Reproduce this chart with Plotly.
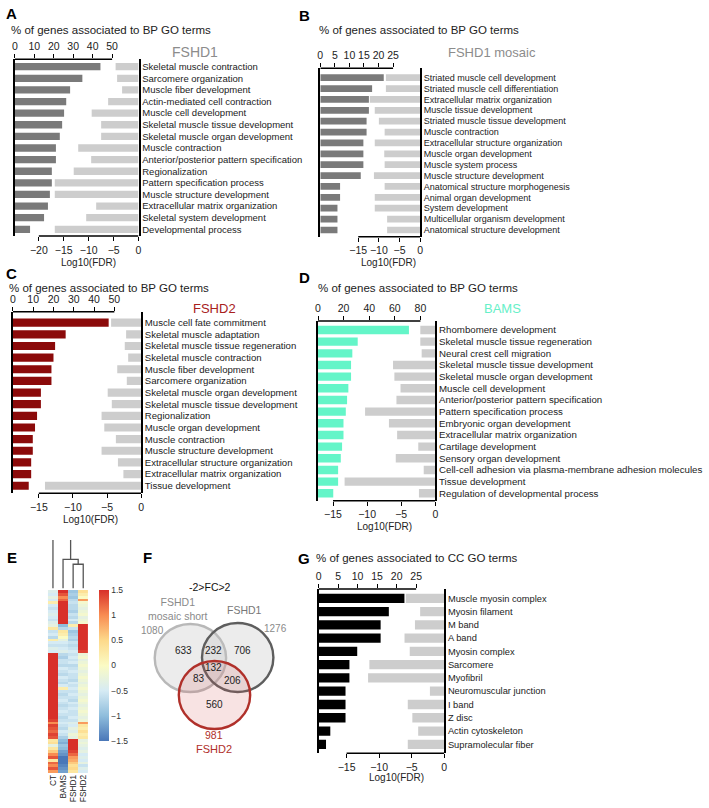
import plotly.graph_objects as go

W, H = 709, 808
FONT = "Liberation Sans, Arial, sans-serif"

# ======================= DATA =======================
a_terms = ["Skeletal muscle contraction", "Sarcomere organization", "Muscle fiber development",
           "Actin-mediated cell contraction", "Muscle cell development", "Skeletal muscle tissue development",
           "Skeletal muscle organ development", "Muscle contraction", "Anterior/posterior pattern specification",
           "Regionalization", "Pattern specification process", "Muscle structure development",
           "Extracellular matrix organization", "Skeletal system development", "Developmental process"]
a_pct = [44, 34.7, 28.4, 26.4, 25.3, 24.3, 23.1, 21.1, 21.1, 19, 19, 18, 17, 15, 7.8]
a_fdr = [-4.6, -4.3, -3.3, -6.1, -9.4, -7.5, -7.5, -12.1, -9.5, -13.0, -16.8, -16.8, -8.5, -10.5, -16.8]

b_terms = ["Striated muscle cell development", "Striated muscle cell differentiation",
           "Extracellular matrix organization", "Muscle tissue development",
           "Striated muscle tissue development", "Muscle contraction", "Extracellular structure organization",
           "Muscle organ development", "Muscle system process", "Muscle structure development",
           "Anatomical structure morphogenesis", "Animal organ development", "System development",
           "Multicellular organism development", "Anatomical structure development"]
b_pct = [21.8, 17.8, 16.7, 16.7, 15.9, 15.9, 14.8, 14.8, 14.8, 13.9, 6.8, 6.8, 5.9, 5.9, 5.9]
b_fdr = [-8.3, -8.3, -12.2, -11.0, -10.0, -8.6, -11.0, -8.7, -8.6, -11.2, -8.6, -11.0, -11.0, -8.0, -8.0]

c_terms = ["Muscle cell fate commitment", "Skeletal muscle adaptation", "Skeletal muscle tissue regeneration",
           "Skeletal muscle contraction", "Muscle fiber development", "Sarcomere organization",
           "Skeletal muscle organ development", "Skeletal muscle tissue development", "Regionalization",
           "Muscle organ development", "Muscle contraction", "Muscle structure development",
           "Extracellular structure organization", "Extracellular matrix organization", "Tissue development"]
c_pct = [47.2, 26, 20.8, 20, 19, 19, 13.8, 13.8, 11.9, 10.9, 9.8, 9.8, 9, 9, 7.8]
c_fdr = [-4.4, -2.2, -2.4, -1.9, -3.5, -2.1, -4.9, -4.3, -5.8, -5.4, -3.7, -5.8, -3.4, -2.6, -14.1]

d_terms = ["Rhombomere development", "Skeletal muscle tissue regeneration", "Neural crest cell migration",
           "Skeletal muscle tissue development", "Skeletal muscle organ development", "Muscle cell development",
           "Anterior/posterior pattern specification", "Pattern specification process",
           "Embryonic organ development", "Extracellular matrix organization", "Cartilage development",
           "Sensory organ development", "Cell-cell adhesion via plasma-membrane adhesion molecules",
           "Tissue development", "Regulation of developmental process"]
d_pct = [71, 31, 26.8, 25.8, 25.8, 23.7, 22.7, 21.7, 19.9, 19.9, 18.8, 17.8, 15.7, 15.7, 11.9]
d_fdr = [-2.2, -2.2, -2.0, -6.2, -6.0, -5.1, -5.7, -10.3, -6.8, -5.6, -2.5, -5.8, -1.7, -13.3, -2.4]

g_terms = ["Muscle myosin complex", "Myosin filament", "M band", "A band", "Myosin complex", "Sarcomere",
           "Myofibril", "Neuromuscular junction", "I band", "Z disc", "Actin cytoskeleton", "Supramolecular fiber"]
g_pct = [22, 18, 15.9, 15.9, 9.9, 7.9, 7.9, 6.9, 6.9, 6.9, 3, 1.9]
g_fdr = [-5.9, -3.7, -4.5, -6.1, -5.3, -11.5, -11.7, -2.2, -5.6, -4.9, -4.0, -5.6]

pct_ticks_50 = [0, 10, 20, 30, 40, 50]
pct_ticks_25 = [0, 5, 10, 15, 20, 25]
pct_ticks_80 = [0, 20, 40, 60, 80]
fdr_ticks_20 = [-20, -15, -10, -5, 0]
fdr_ticks_15 = [-15, -10, -5, 0]

# heatmap (rows x [CT, BAMS, FSHD1, FSHD2])
heat_cols = ["CT", "BAMS", "FSHD1", "FSHD2"]
heat_rows = [
    [-0.4, 1.5, -0.9, 0.4], [-0.5, 1.3, -0.8, 0.2], [-0.3, 1.0, -0.9, 0.0], [-0.5, 1.2, -0.7, 0.9],
    [0.2, 1.5, -0.6, -0.1], [-0.5, 1.5, -0.7, -0.2], [-0.6, 1.5, -0.7, -0.3], [-0.5, 1.5, -0.8, -0.2],
    [-0.4, 1.5, -0.6, -0.1], [-0.5, 1.5, -0.7, -0.3], [-0.6, 1.5, -0.5, -0.2], [-0.4, 1.5, -0.7, -0.1],
    [-0.3, -1.0, 0.2, 1.5], [0.3, -0.7, -0.6, 1.5], [-0.6, 0.3, -0.9, 1.5], [-0.5, 0.2, -0.8, 1.5],
    [-0.7, 0.0, -0.7, 1.5], [0.2, -0.3, -0.8, 1.5], [-0.5, -0.5, -0.6, 1.5], [-0.6, -0.6, -0.7, 1.5],
    [-0.4, -0.5, -0.6, 1.5], [-0.5, -0.4, -0.5, 1.4],
    [1.5, -0.7, -0.6, -0.2], [1.5, -0.8, -0.5, -0.1], [1.5, -0.6, -0.6, -0.3], [1.5, -0.6, -0.5, -0.2],
    [1.5, -0.7, -0.7, -0.1], [1.5, -0.5, -0.6, -0.2], [1.5, -0.6, -0.5, -0.3], [1.5, -0.7, -0.6, -0.2],
    [1.5, -0.5, -0.6, -0.1], [1.5, -0.6, -0.7, -0.2], [1.5, -0.7, -0.5, -0.3], [1.5, -0.5, -0.6, -0.2],
    [1.5, 0.2, -0.5, -0.1], [1.5, -0.6, -0.6, -0.2], [1.5, -0.7, -0.5, -0.3], [1.5, -0.6, -0.6, -0.2],
    [1.5, -0.5, -0.7, -0.1], [1.5, -0.6, -0.5, -0.2], [1.5, -0.7, -0.6, -0.3], [1.5, -0.6, -0.5, -0.2],
    [1.5, -0.5, -0.6, -0.1], [1.5, -0.6, -0.6, -0.2], [1.5, -0.7, -0.5, -0.3], [1.4, -0.6, -0.6, -0.2],
    [1.0, -0.5, -0.4, 0.9], [1.4, -0.6, -0.5, 0.3], [1.3, -0.7, -0.3, 0.2], [1.2, -0.5, -0.4, 0.4],
    [1.4, -0.6, -0.2, 0.2], [1.3, -0.8, -0.3, 0.3],
    [0.3, -1.0, 1.5, -0.3], [0.4, -1.1, 1.5, -0.2], [-0.3, -0.9, 1.5, -0.3], [0.3, -1.0, 1.5, -0.4],
    [0.6, -1.2, 1.4, -0.3], [1.0, -1.3, 1.2, -0.5], [1.3, -1.5, 0.9, -0.4], [0.3, -1.5, 0.8, -0.5],
    [1.2, -1.5, 0.6, -0.3], [1.0, -1.4, 0.4, -0.6], [1.3, -1.3, 0.5, -0.4], [0.9, -1.2, 0.3, -0.5],
]
heat_ticks = [-1.5, -1, -0.5, 0, 0.5, 1, 1.5]
heat_ticktext = ["\u22121.5", "\u22121", "\u22120.5", "0", "0.5", "1", "1.5"]
# dendrogram merges (child A, child B, height)
dendro_merges = [("FSHD1", "FSHD2", 0.5), ("BAMS", "FSHD1+FSHD2", 0.6), ("CT", "BAMS+FSHD1+FSHD2", 1.3)]

# Venn
venn_title = "-2>FC>2"
venn_sets = ["FSHD1<br>mosaic short", "FSHD1", "FSHD2"]
venn_totals = [1080, 1276, 981]
venn_regions = ["mosaic only", "mosaic&FSHD1", "FSHD1 only", "all", "mosaic&FSHD2", "FSHD1&FSHD2", "FSHD2 only"]
venn_counts = [633, 232, 706, 132, 83, 206, 560]

# ======================= LAYOUT =======================
def fx(px):
    return px / W

def fy(py):
    return 1 - py / H

DARK_GREY = "#7a7a7a"
LIGHT = "#cdcdcd"
RED = "#8b0a0a"
AQUA = "#64f5c8"

panels = [
    dict(letter="A", lpos=(9, 13), title="% of genes associated to BP GO terms", tpos=(6, 30),
         name="FSHD1", npos=(194, 52), nsize=14, ncolor="#8c8c8c",
         terms=a_terms, pct=a_pct, fdr=a_fdr, color=DARK_GREY,
         x0=12, x1=136.7, ytop=59.3, ybot=236, row0=66.7, rowN=229.3, pct_max=63.6, fdr_min=-24.8,
         pticks=pct_ticks_50, fticks=fdr_ticks_20, bw=0.63, lsize=9.5, logpos=(86, 263)),
    dict(letter="B", lpos=(304, 15), title="% of genes associated to BP GO terms", tpos=(317, 30),
         name="FSHD1 mosaic", npos=(493, 52), nsize=13, ncolor="#8c8c8c",
         terms=b_terms, pct=b_pct, fdr=b_fdr, color=DARK_GREY,
         x0=320, x1=420.7, ytop=68.3, ybot=236.7, row0=77.7, rowN=230, pct_max=34.3, fdr_min=-24.2,
         pticks=pct_ticks_25, fticks=fdr_ticks_15, bw=0.62, lsize=9, logpos=(389, 262)),
    dict(letter="C", lpos=(9, 273), title="% of genes associated to BP GO terms", tpos=(4, 288),
         name="FSHD2", npos=(213, 308), nsize=13, ncolor="#a8201c",
         terms=c_terms, pct=c_pct, fdr=c_fdr, color=RED,
         x0=10, x1=139.3, ytop=311.7, ybot=493.3, row0=322.7, rowN=485.7, pct_max=63.2, fdr_min=-18.8,
         pticks=pct_ticks_50, fticks=fdr_ticks_15, bw=0.7, lsize=9.6, logpos=(88, 519)),
    dict(letter="D", lpos=(304, 277), title="% of genes associated to BP GO terms", tpos=(316, 288),
         name="BAMS", npos=(504, 308), nsize=13, ncolor="#66f0c8",
         terms=d_terms, pct=d_pct, fdr=d_fdr, color=AQUA,
         x0=317.7, x1=436, ytop=321, ybot=500.7, row0=330, rowN=493.3, pct_max=91.6, fdr_min=-17.2,
         pticks=pct_ticks_80, fticks=fdr_ticks_15, bw=0.72, lsize=9.7, logpos=(385, 526)),
    dict(letter="G", lpos=(304, 558), title="% of genes associated to CC GO terms", tpos=(314, 558),
         name=None, terms=g_terms, pct=g_pct, fdr=g_fdr, color="#000000",
         x0=318.3, x1=445, ytop=589, ybot=753.3, row0=598.3, rowN=744.3, pct_max=32.2, fdr_min=-19.3,
         pticks=pct_ticks_25, fticks=fdr_ticks_15, bw=0.7, lsize=9.3, logpos=(397, 777)),
]

fig = go.Figure()
lay = {}
shapes = []
annotations = []


def xid(k):
    return "x" if k == 1 else f"x{k}"


def yid(k):
    return "y" if k == 1 else f"y{k}"


def xkey(k):
    return "xaxis" if k == 1 else f"xaxis{k}"


def ykey(k):
    return "yaxis" if k == 1 else f"yaxis{k}"


def ann(text, x, y, size=10, color="#222222", xanchor="left", bold=False, yanchor="middle"):
    annotations.append(dict(text=f"<b>{text}</b>" if bold else text, x=fx(x), y=fy(y),
                            xref="paper", yref="paper", xanchor=xanchor, yanchor=yanchor,
                            showarrow=False, font=dict(size=size, color=color, family=FONT)))


LW = 1.6
for i, p in enumerate(panels):
    xa, xb, ya = 2 * i + 1, 2 * i + 2, i + 1
    n = len(p["terms"])
    s = (p["rowN"] - p["row0"]) / (n - 1)
    tpad = (p["row0"] - p["ytop"]) / s
    bpad = (p["ybot"] - p["rowN"]) / s
    fig.add_trace(go.Bar(y=p["terms"], x=p["pct"], orientation="h", width=p["bw"],
                         marker=dict(color=p["color"], line=dict(width=0)),
                         xaxis=xid(xa), yaxis=yid(ya), hoverinfo="skip"))
    fig.add_trace(go.Bar(y=p["terms"], x=p["fdr"], orientation="h", width=p["bw"],
                         marker=dict(color=LIGHT, line=dict(width=0)),
                         xaxis=xid(xb), yaxis=yid(ya), hoverinfo="skip"))
    common_x = dict(showgrid=False, zeroline=False, showline=False, ticks="outside", ticklen=4,
                    tickwidth=1.3, tickcolor="black", tickfont=dict(size=10.5, color="#222", family=FONT))
    lay[xkey(xa)] = dict(domain=[fx(p["x0"]), fx(p["x1"])], range=[0, p["pct_max"]], side="top",
                         anchor=yid(ya), tickvals=p["pticks"], **common_x)
    lay[xkey(xb)] = dict(range=[p["fdr_min"], 0], side="bottom", overlaying=xid(xa), anchor=yid(ya),
                         tickvals=p["fticks"], **common_x)
    lay[ykey(ya)] = dict(domain=[fy(p["ybot"]), fy(p["ytop"])], type="category",
                         categoryorder="array", categoryarray=p["terms"],
                         tickmode="array", tickvals=p["terms"], ticktext=p["terms"],
                         range=[n - 1 + bpad, -tpad], anchor=xid(xa), side="right",
                         showline=True, mirror=True, linecolor="black", linewidth=LW,
                         ticks="", showgrid=False, zeroline=False,
                         tickfont=dict(size=p["lsize"], color="#222", family=FONT))
    shapes.append(dict(type="line", xref=xid(xa), yref=f"{yid(ya)} domain", x0=p["pticks"][0],
                       x1=p["pticks"][-1], y0=1, y1=1, line=dict(color="black", width=LW)))
    shapes.append(dict(type="line", xref=xid(xb), yref=f"{yid(ya)} domain", x0=p["fticks"][0],
                       x1=0, y0=0, y1=0, line=dict(color="black", width=LW)))
    ann(p["letter"], p["lpos"][0], p["lpos"][1], size=15, bold=True, color="black", xanchor="center")
    ann(p["title"], p["tpos"][0], p["tpos"][1], size=11.5, color="#222")
    if p["name"]:
        ann(p["name"], p["npos"][0], p["npos"][1], size=p["nsize"], color=p["ncolor"], xanchor="center")
    ann("Log10(FDR)", p["logpos"][0], p["logpos"][1], size=10, xanchor="center")

# ---------------- Heatmap (E) ----------------
HX, HY = 11, 6
hx0, hx1, hy0, hy1 = 45.3, 86, 590, 773.3
nrows = len(heat_rows)
heat_scale = [[0.0, "#4a77b8"], [1 / 6, "#8fbddc"], [2 / 6, "#d6ebf4"], [3 / 6, "#fbfbc4"],
              [4 / 6, "#fdd98a"], [5 / 6, "#f88c52"], [1.0, "#d8302a"]]
fig.add_trace(go.Heatmap(z=heat_rows, x=list(range(len(heat_cols))), y=list(range(nrows)),
                         zmin=-1.5, zmax=1.5, colorscale=heat_scale, xaxis=xid(HX), yaxis=yid(HY),
                         hoverinfo="skip", xgap=0, ygap=0,
                         colorbar=dict(x=fx(97), xanchor="left", y=fy(665.5), yanchor="middle",
                                       len=151 / H, lenmode="fraction", thickness=9.5, thicknessmode="pixels",
                                       outlinewidth=0, xpad=0, ypad=0, tickvals=heat_ticks,
                                       ticktext=heat_ticktext, ticks="",
                                       tickfont=dict(size=8.5, color="#333", family=FONT))))
lay[xkey(HX)] = dict(domain=[fx(hx0), fx(hx1)], range=[-0.5, len(heat_cols) - 0.5], anchor=yid(HY),
                     tickvals=list(range(len(heat_cols))), ticktext=heat_cols, tickangle=-90,
                     ticks="", showgrid=False, zeroline=False, showline=False, ticklabelstandoff=-1,
                     tickfont=dict(size=8.3, color="#222", family=FONT))
lay[ykey(HY)] = dict(domain=[fy(hy1), fy(hy0)], range=[nrows - 0.5, -0.5], anchor=xid(HX),
                     visible=False)

# ---------------- Dendrogram ----------------
DX, DY = 12, 7
pos = {c: (float(i), 0.0) for i, c in enumerate(heat_cols)}
dxs, dys = [], []
for a, b, h in dendro_merges:
    xa_, ha = pos[a]
    xb_, hb = pos[b]
    dxs += [xa_, xa_, xb_, xb_, None]
    dys += [ha, h, h, hb, None]
    pos[f"{a}+{b}"] = ((xa_ + xb_) / 2, h)
fig.add_trace(go.Scatter(x=dxs, y=dys, mode="lines", line=dict(color="#555555", width=1.3),
                         xaxis=xid(DX), yaxis=yid(DY), hoverinfo="skip"))
lay[xkey(DX)] = dict(domain=[fx(hx0), fx(hx1)], range=[-0.5, len(heat_cols) - 0.5], anchor=yid(DY),
                     visible=False)
lay[ykey(DY)] = dict(domain=[fy(588.5), fy(540)], range=[0, 1.0], anchor=xid(DX), visible=False)
ann("E", 9, 557, size=15, bold=True, color="black", xanchor="center")

# ---------------- Venn (F) ----------------
ann("F", 146, 557, size=15, bold=True, color="black", xanchor="center")
venn_circles = [
    dict(box=(153, 624, 225, 692), line="#b8b8b8", fill="rgba(195,195,195,0.32)"),
    dict(box=(200.7, 623, 272.7, 692), line="#5e5e5e", fill="rgba(195,195,195,0.32)"),
    dict(box=(177.3, 661, 249.3, 729), line="#b0302a", fill="rgba(215,90,90,0.17)"),
]
for c in venn_circles:
    x0, y0, x1, y1 = c["box"]
    shapes.append(dict(type="circle", xref="paper", yref="paper", x0=fx(x0), x1=fx(x1),
                       y0=fy(y1), y1=fy(y0), line=dict(color=c["line"], width=2.4), fillcolor=c["fill"],
                       layer="above"))
region_pos = [(181.7, 650), (212.7, 650), (241.7, 650), (212.7, 667), (197.3, 678), (231.7, 680), (213.3, 704)]
for cnt, (x, y) in zip(venn_counts, region_pos):
    ann(str(cnt), x, y, size=10, color="#222", xanchor="center")
ann(venn_title, 209, 587, size=10.5, color="#111", xanchor="center")
ann(venn_sets[0], 176, 609, size=10.5, color="#8a8a8a", xanchor="center")
ann(venn_sets[1], 243.5, 610, size=10.5, color="#777777", xanchor="center")
ann(str(venn_totals[0]), 150.5, 630, size=10, color="#8a8a8a", xanchor="center")
ann(str(venn_totals[1]), 275, 628, size=10, color="#8a8a8a", xanchor="center")
ann(str(venn_totals[2]), 213.3, 735, size=10.5, color="#b0302a", xanchor="center")
ann(venn_sets[2], 213.3, 748.5, size=11, color="#b0302a", xanchor="center")

fig.update_layout(width=W, height=H, margin=dict(l=0, r=0, t=0, b=0), autosize=False,
                  paper_bgcolor="white", plot_bgcolor="white", showlegend=False, barmode="overlay",
                  font=dict(family=FONT, color="#222"), shapes=shapes, annotations=annotations, **lay)

fig.write_html("out.html", config={"displayModeBar": False},
               post_script="document.body.style.margin='0';document.body.style.overflow='hidden';")
